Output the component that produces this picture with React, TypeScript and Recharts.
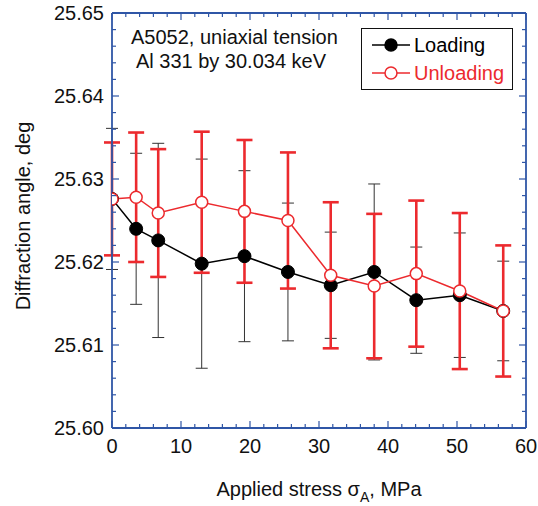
import { ComposedChart, Line, XAxis, YAxis, ErrorBar } from "recharts";

// applied stress (MPa)
const stress = [0, 3.5, 6.7, 13.0, 19.2, 25.5, 31.7, 38.0, 44.1, 50.4, 56.7];
// diffraction angle, loading
const loading = [25.6276, 25.624, 25.6226, 25.6198, 25.6207, 25.6188, 25.6172, 25.6188, 25.6154, 25.616, 25.6141];
const loadingErr = [0.0085, 0.0091, 0.0117, 0.0126, 0.0103, 0.0083, 0.0064, 0.0106, 0.0064, 0.0075, 0.006];
// diffraction angle, unloading
const unloading = [25.6276, 25.6278, 25.6259, 25.6272, 25.6261, 25.625, 25.6184, 25.6171, 25.6186, 25.6165, 25.6141];
const unloadingErr = [0.0068, 0.0078, 0.0077, 0.0085, 0.0086, 0.0082, 0.0088, 0.0087, 0.0088, 0.0094, 0.0079];

const xMajor = [0, 10, 20, 30, 40, 50, 60];
const yMajor = [25.6, 25.61, 25.62, 25.63, 25.64, 25.65];

const xTicks: number[] = [];
for (let i = 0; i <= 30; i++) xTicks.push(i * 2);
const yTicks: number[] = [];
for (let i = 0; i <= 25; i++) yTicks.push(Math.round((25.6 + i * 0.002) * 1000) / 1000);

const data = stress.map((s, i) => ({
  s,
  load: loading[i],
  loadErr: loadingErr[i],
  unload: unloading[i],
  unloadErr: unloadingErr[i],
}));

const FONT = "'Liberation Sans', Arial, Helvetica, sans-serif";
const AXIS = "#2f56a6";
const RED = "#ec2a2e";

const isMajorX = (v: number) => xMajor.includes(v);
const isMajorY = (v: number) => yMajor.some((m) => Math.abs(m - v) < 1e-6);

const YTick = ({ x, y, payload, side }: any) => {
  const major = isMajorY(payload.value);
  const len = major ? 7 : 4;
  const dir = side === "left" ? 1 : -1;
  return (
    <g>
      <line x1={x} x2={x + dir * len} y1={y} y2={y} stroke={AXIS} strokeWidth={1.2} />
      {side === "left" && major && (
        <text x={x - 8} y={y} dy={7} textAnchor="end" fontSize={20} fontFamily={FONT} fill="#111">
          {payload.value.toFixed(2)}
        </text>
      )}
    </g>
  );
};

const XTick = ({ x, y, payload, side }: any) => {
  const major = isMajorX(payload.value);
  const len = major ? 7 : 4;
  const dir = side === "bottom" ? -1 : 1;
  return (
    <g>
      <line x1={x} x2={x} y1={y} y2={y + dir * len} stroke={AXIS} strokeWidth={1.2} />
      {side === "bottom" && major && (
        <text x={x} y={y + 25} textAnchor="middle" fontSize={20} fontFamily={FONT} fill="#111">
          {payload.value}
        </text>
      )}
    </g>
  );
};

const LegendBox = () => (
  <div style={{ position: "absolute", left: 361, top: 28, border: "1.5px solid #111", background: "#fff", width: 152, height: 62, boxSizing: "border-box", fontFamily: FONT, fontSize: 20 }}>
    {[
      { label: "Loading", color: "#000", fill: "#000" },
      { label: "Unloading", color: RED, fill: "#fff" },
    ].map((e, i) => (
      <div key={e.label} style={{ display: "flex", alignItems: "center", height: 28, marginTop: i === 0 ? 2 : 0, color: e.color }}>
        <svg width={50} height={20} style={{ marginLeft: 8 }}>
          <line x1={2} x2={40} y1={10} y2={10} stroke={e.color} strokeWidth={1.5} />
          <circle cx={21} cy={10} r={6} fill={e.fill} stroke={e.color} strokeWidth={1.5} />
        </svg>
        <span style={{ marginLeft: -6, lineHeight: "20px" }}>{e.label}</span>
      </div>
    ))}
  </div>
);

export default function App() {
  return (
    <div style={{ position: "absolute", left: 0, top: 0, width: 538, height: 506, background: "#fff" }}>
      <ComposedChart width={538} height={506} data={data} margin={{ top: 12, right: 11, bottom: 48, left: 52 }}>
        <XAxis
          dataKey="s"
          type="number"
          domain={[0, 60]}
          ticks={xTicks}
          interval={0}
          allowDataOverflow
          height={30}
          tickSize={0}
          tickMargin={0}
          tickLine={false}
          axisLine={{ stroke: AXIS, strokeWidth: 1.8 }}
          tick={(p: any) => <XTick {...p} side="bottom" />}
          label={{
            content: ({ viewBox }: any) => (
              <text x={viewBox.x + viewBox.width / 2} y={496} textAnchor="middle" fontSize={20} fontFamily={FONT} fill="#111">
                Applied stress σ
                <tspan fontSize={14} dy={6}>A</tspan>
                <tspan dy={-6}>, MPa</tspan>
              </text>
            ),
          }}
        />
        <XAxis
          xAxisId="top"
          dataKey="s"
          orientation="top"
          type="number"
          domain={[0, 60]}
          ticks={xTicks}
          interval={0}
          allowDataOverflow
          height={1}
          tickSize={0}
          tickMargin={0}
          tickLine={false}
          axisLine={{ stroke: AXIS, strokeWidth: 1.8 }}
          tick={(p: any) => <XTick {...p} side="top" />}
        />
        <YAxis
          type="number"
          domain={[25.6, 25.65]}
          ticks={yTicks}
          interval={0}
          allowDataOverflow
          width={60}
          tickSize={0}
          tickMargin={0}
          tickLine={false}
          axisLine={{ stroke: AXIS, strokeWidth: 1.8 }}
          tick={(p: any) => <YTick {...p} side="left" />}
          label={{
            content: () => (
              <text x={30} y={216} transform="rotate(-90 30 216)" textAnchor="middle" fontSize={20} fontFamily={FONT} fill="#111">
                Diffraction angle, deg
              </text>
            ),
          }}
        />
        <YAxis
          yAxisId="right"
          orientation="right"
          type="number"
          domain={[25.6, 25.65]}
          ticks={yTicks}
          interval={0}
          allowDataOverflow
          width={1}
          tickSize={0}
          tickMargin={0}
          tickLine={false}
          axisLine={{ stroke: AXIS, strokeWidth: 1.8 }}
          tick={(p: any) => <YTick {...p} side="right" />}
        />
        {/* mirror series, invisible, so the top and right axes get drawn */}
        <Line xAxisId="top" yAxisId="right" dataKey="load" stroke="none" dot={false} isAnimationActive={false} />
        {/* error bars first so lines and markers sit on top */}
        <Line dataKey="load" stroke="none" dot={false} isAnimationActive={false}>
          <ErrorBar dataKey="loadErr" width={6} stroke="#333" strokeWidth={1} isAnimationActive={false} />
        </Line>
        <Line dataKey="unload" stroke="none" dot={false} isAnimationActive={false}>
          <ErrorBar dataKey="unloadErr" width={8} stroke={RED} strokeWidth={2.6} isAnimationActive={false} />
        </Line>
        <Line
          dataKey="load"
          stroke="#000"
          strokeWidth={1.5}
          dot={{ r: 6.5, fill: "#000", stroke: "#000", strokeWidth: 1 }}
          isAnimationActive={false}
        />
        <Line
          dataKey="unload"
          stroke={RED}
          strokeWidth={1.5}
          dot={{ r: 6, fill: "#fff", stroke: RED, strokeWidth: 1.5 }}
          isAnimationActive={false}
        />
      </ComposedChart>
      <div style={{ position: "absolute", left: 131, top: 25, width: 200, textAlign: "center", fontFamily: FONT, fontSize: 20, lineHeight: "24px", color: "#111", whiteSpace: "nowrap" }}>
        A5052, uniaxial tension
        <br />
        Al 331 by 30.034 keV
      </div>
      <LegendBox />
    </div>
  );
}
